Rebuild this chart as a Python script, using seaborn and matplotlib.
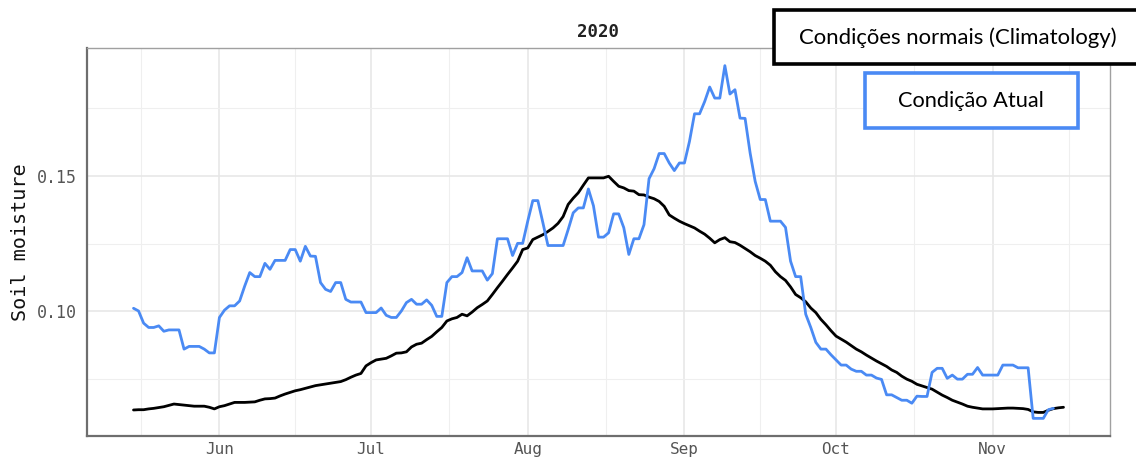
import numpy as np
import pandas as pd
import seaborn as sns
import matplotlib
matplotlib.use("Agg")
import matplotlib.pyplot as plt
import matplotlib.dates as mdates
from matplotlib.patches import Rectangle

# Daily soil moisture, 2020, starting 15 May
start_date = "2020-05-15"

current = [
    0.1011, 0.1001, 0.0956, 0.0940, 0.0940, 0.0946, 0.0926, 0.0931, 0.0931, 0.0931,
    0.0860, 0.0870, 0.0870, 0.0870, 0.0860, 0.0846, 0.0846, 0.0977, 0.1004, 0.1020,
    0.1020, 0.1038, 0.1093, 0.1143, 0.1128, 0.1128, 0.1177, 0.1155, 0.1188, 0.1188,
    0.1188, 0.1228, 0.1228, 0.1185, 0.1240, 0.1204, 0.1203, 0.1106, 0.1081, 0.1073,
    0.1106, 0.1106, 0.1044, 0.1034, 0.1034, 0.1034, 0.0995, 0.0995, 0.0995, 0.1012,
    0.0985, 0.0977, 0.0977, 0.1001, 0.1032, 0.1044, 0.1026, 0.1026, 0.1042, 0.1022,
    0.0981, 0.0981, 0.1106, 0.1128, 0.1128, 0.1143, 0.1198, 0.1149, 0.1149, 0.1149,
    0.1115, 0.1139, 0.1268, 0.1268, 0.1268, 0.1206, 0.1251, 0.1251, 0.1333, 0.1409,
    0.1409, 0.1327, 0.1243, 0.1243, 0.1243, 0.1243, 0.1302, 0.1364, 0.1382, 0.1382,
    0.1452, 0.1390, 0.1274, 0.1274, 0.1290, 0.1360, 0.1360, 0.1309, 0.1210, 0.1268,
    0.1268, 0.1320, 0.1490, 0.1527, 0.1583, 0.1583, 0.1548, 0.1520, 0.1548, 0.1548,
    0.1628, 0.1730, 0.1730, 0.1775, 0.1829, 0.1788, 0.1788, 0.1908, 0.1803, 0.1819,
    0.1714, 0.1713, 0.1585, 0.1480, 0.1413, 0.1413, 0.1333, 0.1333, 0.1333, 0.1310,
    0.1185, 0.1128, 0.1128, 0.0989, 0.0940, 0.0885, 0.0860, 0.0860, 0.0839, 0.0820,
    0.0801, 0.0801, 0.0786, 0.0778, 0.0778, 0.0764, 0.0764, 0.0753, 0.0748, 0.0691,
    0.0691, 0.0681, 0.0671, 0.0671, 0.0660, 0.0686, 0.0685, 0.0685, 0.0774, 0.0789,
    0.0789, 0.0752, 0.0764, 0.0749, 0.0749, 0.0767, 0.0767, 0.0792, 0.0764, 0.0764,
    0.0764, 0.0764, 0.0801, 0.0801, 0.0801, 0.0791, 0.0791, 0.0791, 0.0604, 0.0604,
    0.0604, 0.0636, 0.0641,
]

climatology = [
    0.0635, 0.0636, 0.0636, 0.0639, 0.0641, 0.0644, 0.0647, 0.0652, 0.0657, 0.0655,
    0.0653, 0.0651, 0.0649, 0.0649, 0.0649, 0.0645, 0.0639, 0.0647, 0.0651, 0.0657,
    0.0663, 0.0663, 0.0663, 0.0664, 0.0665, 0.0671, 0.0676, 0.0677, 0.0679, 0.0687,
    0.0694, 0.0700, 0.0706, 0.0710, 0.0715, 0.0720, 0.0725, 0.0728, 0.0731, 0.0734,
    0.0737, 0.0740, 0.0747, 0.0756, 0.0764, 0.0770, 0.0798, 0.0810, 0.0820, 0.0823,
    0.0826, 0.0835, 0.0845, 0.0846, 0.0850, 0.0868, 0.0878, 0.0882, 0.0895, 0.0907,
    0.0924, 0.0940, 0.0964, 0.0972, 0.0977, 0.0989, 0.0983, 0.0997, 0.1013, 0.1025,
    0.1038, 0.1062, 0.1087, 0.1111, 0.1136, 0.1160, 0.1185, 0.1228, 0.1234, 0.1265,
    0.1274, 0.1283, 0.1295, 0.1308, 0.1325, 0.1350, 0.1395, 0.1418, 0.1438, 0.1466,
    0.1493, 0.1493, 0.1493, 0.1493, 0.1499, 0.1480, 0.1462, 0.1456, 0.1446, 0.1444,
    0.1431, 0.1430, 0.1422, 0.1416, 0.1406, 0.1388, 0.1356, 0.1344, 0.1333, 0.1324,
    0.1316, 0.1308, 0.1296, 0.1285, 0.1270, 0.1253, 0.1265, 0.1272, 0.1257, 0.1254,
    0.1244, 0.1232, 0.1220, 0.1206, 0.1196, 0.1185, 0.1170, 0.1146, 0.1128, 0.1114,
    0.1090, 0.1062, 0.1050, 0.1035, 0.1012, 0.0995, 0.0970, 0.0950, 0.0928, 0.0908,
    0.0897, 0.0886, 0.0873, 0.0860, 0.0850, 0.0838, 0.0827, 0.0816, 0.0806, 0.0796,
    0.0783, 0.0774, 0.0760, 0.0749, 0.0741, 0.0730, 0.0724, 0.0718, 0.0712, 0.0701,
    0.0690, 0.0681, 0.0671, 0.0664, 0.0657, 0.0649, 0.0645, 0.0642, 0.0639, 0.0639,
    0.0639, 0.0640, 0.0641, 0.0642, 0.0642, 0.0641, 0.0640, 0.0637, 0.0628, 0.0626,
    0.0626, 0.0634, 0.0640, 0.0643, 0.0645,
]

title = "2020"
y_label = "Soil moisture"
y_ticks = [0.10, 0.15]
legend_normal = "Condições normais (Climatology)"
legend_current = "Condição Atual"

blue = "#4a8af4"
mono = "DejaVu Sans Mono"

df_cur = pd.DataFrame({"date": pd.date_range(start_date, periods=len(current), freq="D"),
                       "value": current})
df_clim = pd.DataFrame({"date": pd.date_range(start_date, periods=len(climatology), freq="D"),
                        "value": climatology})

sns.set_theme(style="white")
plt.rcParams["font.family"] = [mono]

fig = plt.figure(figsize=(11.36, 4.61), dpi=100)
ax = fig.add_axes([87 / 1136, 25 / 461, (1110 - 87) / 1136, (436 - 48) / 461])

sns.lineplot(data=df_clim, x="date", y="value", ax=ax, color="black", linewidth=2.0, zorder=3)
sns.lineplot(data=df_cur, x="date", y="value", ax=ax, color=blue, linewidth=2.0, zorder=4)

# 5% padding on both axes
d0 = min(df_cur["date"].min(), df_clim["date"].min())
d1 = max(df_cur["date"].max(), df_clim["date"].max())
pad = (d1 - d0) * 0.05
ax.set_xlim(d0 - pad, d1 + pad)
vals = np.concatenate([current, climatology])
vpad = (vals.max() - vals.min()) * 0.05
ax.set_ylim(vals.min() - vpad, vals.max() + vpad)

# month ticks with minor lines halfway between them
months = pd.date_range("2020-05-01", "2020-12-01", freq="MS")
major = months[1:-1]
mids = [mdates.date2num(a) + (mdates.date2num(b) - mdates.date2num(a)) / 2
        for a, b in zip(months[:-1], months[1:])]
ax.set_xticks(mdates.date2num(major))
ax.set_xticklabels([m.strftime("%b") for m in major])
ax.set_xticks(mids, minor=True)
ax.set_yticks(y_ticks)
ax.set_yticklabels([f"{t:.2f}" for t in y_ticks])
ax.set_yticks([0.075, 0.125, 0.175], minor=True)

ax.grid(True, which="major", color="#e6e6e6", linewidth=1.1, zorder=0)
ax.grid(True, which="minor", color="#efefef", linewidth=0.8, zorder=0)
ax.set_axisbelow(True)

ax.tick_params(axis="both", which="major", length=4, width=1.2, color="#555555",
               labelsize=12, labelcolor="#555555", direction="out")
ax.tick_params(axis="x", which="major", pad=1, labelsize=11.5, length=3)
ax.tick_params(which="minor", length=0)
for lab in ax.get_xticklabels() + ax.get_yticklabels():
    lab.set_family(mono)

for side in ["left", "bottom"]:
    ax.spines[side].set_color("#6e6e6e")
    ax.spines[side].set_linewidth(1.6)
for side in ["top", "right"]:
    ax.spines[side].set_color("#a0a0a0")
    ax.spines[side].set_linewidth(1.0)

ax.set_xlabel("")
ax.set_ylabel(y_label, fontsize=14.5, color="#111111", family=mono, labelpad=5)
ax.set_title(title, fontsize=12.5, fontweight="bold", color="#222222", family=mono, pad=8)

# legend boxes placed on the figure
box1 = Rectangle((774 / 1136, 1 - 64 / 461), 0.34, 54 / 461, transform=fig.transFigure,
                 facecolor="white", edgecolor="black", linewidth=2.6, clip_on=False, zorder=10)
fig.patches.append(box1)
fig.text(958 / 1136, 1 - 38 / 461, legend_normal, ha="center", va="center",
         fontsize=15.9, family="Lato", color="black", zorder=11)

box2 = Rectangle((865 / 1136, 1 - 128 / 461), (1078 - 865) / 1136, 55 / 461,
                 transform=fig.transFigure, facecolor="white", edgecolor=blue,
                 linewidth=2.6, clip_on=False, zorder=10)
fig.patches.append(box2)
fig.text(971 / 1136, 1 - 101 / 461, legend_current, ha="center", va="center",
         fontsize=15.7, family="Lato", color="black", zorder=11)

fig.savefig("out.png", dpi=100)
